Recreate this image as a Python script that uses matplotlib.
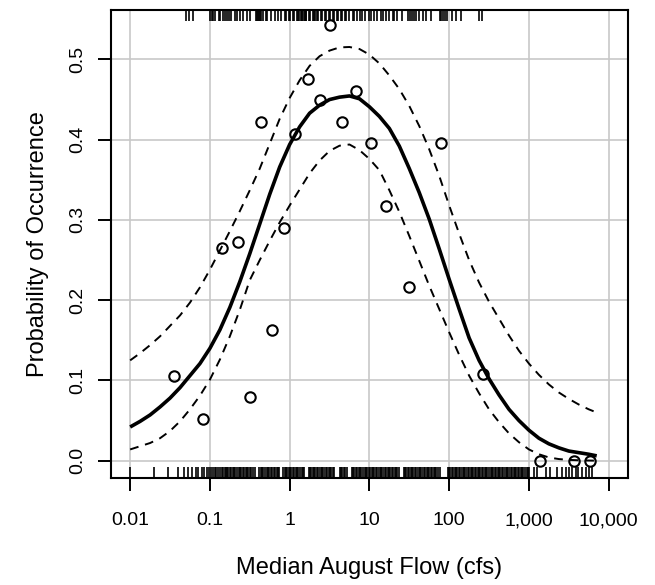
"""Probability of occurrence vs median August flow (logistic fit with bands)."""

import matplotlib
matplotlib.use("Agg")
import matplotlib.pyplot as plt
import numpy as np

plt.rcParams["font.family"] = ["Liberation Sans", "DejaVu Sans"]

# observed proportions (binned)
obs_flow = [0.035, 0.081, 0.143, 0.222, 0.316, 0.443, 0.60, 0.84, 1.18, 1.69,
            2.37, 3.22, 4.56, 6.8, 10.5, 16.2, 31, 80, 266, 1360, 3650, 5900]
obs_prob = [0.105, 0.0525, 0.265, 0.272, 0.079, 0.422, 0.1625, 0.290, 0.4075, 0.475,
            0.449, 0.543, 0.422, 0.461, 0.396, 0.317, 0.217, 0.396, 0.1075, 0.0, 0.0, 0.0]

# fitted curve and 95% band at these log10(flow) positions
curve_logq = [-2.0, -1.875, -1.75, -1.625, -1.5, -1.375, -1.25, -1.125, -1.0, -0.875,
              -0.75, -0.625, -0.5, -0.375, -0.25, -0.125, 0.0, 0.125, 0.25, 0.375,
              0.5, 0.625, 0.75, 0.875, 1.0, 1.125, 1.25, 1.375, 1.5, 1.625,
              1.75, 1.875, 2.0, 2.125, 2.25, 2.375, 2.5, 2.625, 2.75, 2.875,
              3.0, 3.125, 3.25, 3.375, 3.5, 3.625, 3.75, 3.85]
fit_prob = [0.042, 0.049, 0.057, 0.067, 0.078, 0.091, 0.106, 0.121, 0.140, 0.163,
            0.191, 0.223, 0.258, 0.295, 0.332, 0.366, 0.394, 0.416, 0.433, 0.443,
            0.450, 0.453, 0.4545, 0.451, 0.441, 0.429, 0.414, 0.392, 0.364, 0.334,
            0.301, 0.264, 0.226, 0.189, 0.153, 0.125, 0.102, 0.082, 0.064, 0.050,
            0.038, 0.028, 0.021, 0.016, 0.012, 0.010, 0.008, 0.006]
upper_prob = [0.125, 0.134, 0.144, 0.155, 0.168, 0.181, 0.197, 0.216, 0.238, 0.262,
              0.286, 0.311, 0.337, 0.364, 0.395, 0.426, 0.452, 0.474, 0.492, 0.504,
              0.511, 0.515, 0.5155, 0.513, 0.506, 0.495, 0.480, 0.463, 0.442, 0.417,
              0.388, 0.355, 0.318, 0.283, 0.250, 0.222, 0.198, 0.177, 0.156, 0.137,
              0.121, 0.107, 0.095, 0.085, 0.077, 0.070, 0.064, 0.060]
lower_prob = [0.014, 0.018, 0.022, 0.028, 0.037, 0.049, 0.064, 0.081, 0.101, 0.126,
              0.155, 0.188, 0.225, 0.250, 0.274, 0.297, 0.318, 0.338, 0.358, 0.374,
              0.386, 0.3925, 0.394, 0.387, 0.376, 0.362, 0.337, 0.310, 0.280, 0.249,
              0.218, 0.189, 0.160, 0.132, 0.106, 0.084, 0.064, 0.048, 0.034, 0.023,
              0.014, 0.008, 0.004, 0.002, 0.001, 0.0005, 0.0002, 0.0]

# rug positions in hundredths of a decade (log10 flow * 100)
rug_present = [-130, -126, -121, -100, -98, -96, -93, -89, -87, -84, -81, -79, -76,
               -73, -69, -66, -62, -58, -54, -50, -42, -41, -40, -39, -37, -36, -33,
               -30, -28, -23, -19, -15, -11, -6, -4, -1, 1, 4, 6, 9, 11, 12, 14, 15,
               16, 18, 19, 20, 21, 24, 26, 29, 31, 32, 34, 36, 39, 41, 44, 46, 49, 51,
               54, 56, 59, 61, 64, 66, 69, 71, 75, 79, 81, 84, 88, 91, 95, 99, 102,
               106, 110, 114, 117, 121, 125, 129, 131, 135, 141, 149, 151, 154, 156,
               158, 162, 167, 171, 177, 188, 190, 192, 195, 197, 204, 208, 215, 237,
               241]
rug_absent = [-200, -170, -152, -140, -132, -127, -123, -118, -115, -110, -107, -104,
              -101, -99, -96, -94, -92, -90, -87, -85, -83, -81,
              -80, -78, -77, -75, -73, -71, -70, -68, -66, -64, -62, -61, -59, -57,
              -55, -53, -52, -50, -48, -46, -44, -38, -36, -35, -33, -31, -29, -27,
              -26, -24, -22, -20, -18, -16, -15, -13, -8, -6, -5, -3, -1, 1, 2, 4, 6,
              8, 9, 11, 13, 15, 17, 18, 24, 25, 27, 29, 31, 32, 34, 36, 38, 40, 41,
              43, 45, 47, 49, 50, 52, 54, 56, 63, 64, 66, 68, 70, 72, 78, 79, 81, 83,
              85, 87, 88, 90, 92, 94, 96, 97, 99, 101, 103, 105, 106, 108, 110, 112,
              114, 115, 117, 119, 121, 123, 124, 126, 128, 130, 132, 133, 135, 137,
              143, 145, 146, 148, 150, 152, 154, 155, 157, 159, 161, 163, 164, 166,
              168, 170, 172, 173, 175, 177, 179, 181, 182, 184, 186, 188, 198, 200,
              201, 203, 205, 207, 209, 210, 212, 214, 216, 218, 219, 221, 223, 225,
              227, 228, 230, 232, 234, 236, 237, 239, 241, 243, 245, 246, 248, 250,
              252, 254, 255, 257, 259, 261, 263, 264, 266, 268, 270, 272, 273, 275,
              277, 279, 281, 282, 284, 286, 288, 290, 291, 293, 295, 297, 299, 300,
              306, 310, 321, 327, 335, 341, 346, 350, 354, 359, 362, 366, 371, 375,
              379]

x_ticks = [0.01, 0.1, 1, 10, 100, 1000, 10000]
x_ticklabels = ["0.01", "0.1", "1", "10", "100", "1,000", "10,000"]
y_ticks = [0.0, 0.1, 0.2, 0.3, 0.4, 0.5]


def main():
    fig = plt.figure(figsize=(6.55, 5.85), dpi=100)
    ax = fig.add_axes([0.1695, 0.1829, 0.789, 0.80])

    ax.set_xscale("log")
    ax.set_xlim(10 ** -2.24, 10 ** 4.24)
    ax.set_ylim(-0.0216, 0.5616)

    for xv in x_ticks:
        ax.axvline(xv, color="#c8c8c8", lw=1.2, zorder=0)
    for yv in y_ticks:
        ax.axhline(yv, color="#c8c8c8", lw=1.2, zorder=0)

    q = 10 ** np.array(curve_logq)
    ax.plot(q, upper_prob, color="black", lw=1.4, dashes=(4.5, 3.5), zorder=2)
    ax.plot(q, lower_prob, color="black", lw=1.4, dashes=(4.5, 3.5), zorder=2)
    ax.plot(q, fit_prob, color="black", lw=2.6, solid_capstyle="butt",
            solid_joinstyle="round", zorder=3)

    ax.plot(obs_flow, obs_prob, "o", ms=7.5, mfc="none", mec="black", mew=1.5,
            zorder=4)

    trans = ax.get_xaxis_transform()
    ax.vlines(10 ** (np.array(rug_present) / 100), 1 - 0.024, 1, color="black",
              lw=1.2, transform=trans, zorder=5)
    ax.vlines(10 ** (np.array(rug_absent) / 100), 0, 0.024, color="black",
              lw=1.2, transform=trans, zorder=5)

    ax.set_xticks(x_ticks)
    ax.set_xticklabels(x_ticklabels)
    ax.xaxis.set_minor_locator(matplotlib.ticker.NullLocator())
    ax.set_yticks(y_ticks)
    ax.set_yticklabels([f"{v:.1f}" for v in y_ticks], rotation=90, va="center")

    ax.tick_params(axis="both", direction="out", length=9.5, width=1.4,
                   labelsize=14)
    ax.tick_params(axis="x", pad=15)
    ax.tick_params(axis="y", pad=8)
    for sp in ax.spines.values():
        sp.set_linewidth(1.5)

    ax.set_xlabel("Median August Flow (cfs)", fontsize=17, labelpad=20)
    ax.set_ylabel("Probability of Occurrence", fontsize=17, labelpad=15)

    fig.savefig("out.png", dpi=100)
    plt.close(fig)


if __name__ == "__main__":
    main()
